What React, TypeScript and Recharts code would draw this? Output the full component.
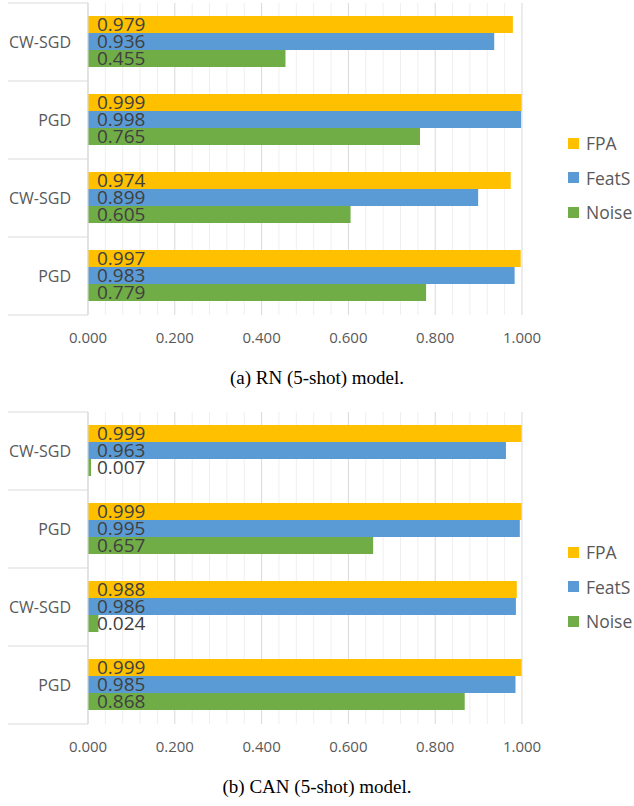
import React from "react";
import { BarChart, Bar, XAxis, YAxis, CartesianGrid, LabelList } from "recharts";

const categories = ["CW-SGD", "PGD", "CW-SGD", "PGD"];
const seriesNames = ["FPA", "FeatS", "Noise"];
const seriesColors = ["#FFC000", "#5B9BD5", "#70AD47"];

const rnFPA = [0.979, 0.999, 0.974, 0.997];
const rnFeatS = [0.936, 0.998, 0.899, 0.983];
const rnNoise = [0.455, 0.765, 0.605, 0.779];

const canFPA = [0.999, 0.999, 0.988, 0.999];
const canFeatS = [0.963, 0.995, 0.986, 0.985];
const canNoise = [0.007, 0.657, 0.024, 0.868];

// every 0.04 is a minor gridline, labels only on the 0.2 steps
const xTicks = [
  0, 0.04, 0.08, 0.12, 0.16, 0.2, 0.24, 0.28, 0.32, 0.36, 0.4, 0.44, 0.48,
  0.52, 0.56, 0.6, 0.64, 0.68, 0.72, 0.76, 0.8, 0.84, 0.88, 0.92, 0.96, 1,
];
const xLabelTicks = [0, 0.2, 0.4, 0.6, 0.8, 1];

const FONT = "'Open Sans', sans-serif";
const W = 634;
const H = 355;
const MARGIN = { top: 3, right: 112, left: 8, bottom: 0 };
const Y_W = 80;
const X_H = 40;
const PLOT_LEFT = MARGIN.left + Y_W;
const BAND = (H - MARGIN.top - X_H) / categories.length;

const isMajor = (v: number) => xLabelTicks.some((t) => Math.abs(t - v) < 1e-6);

function CatTick(p: any) {
  const last = p.index === categories.length - 1;
  return (
    <g>
      <line x1={MARGIN.left} x2={PLOT_LEFT} y1={p.y - BAND / 2} y2={p.y - BAND / 2} stroke="#d9d9d9" />
      {last && (
        <line x1={MARGIN.left} x2={PLOT_LEFT} y1={p.y + BAND / 2} y2={p.y + BAND / 2} stroke="#d9d9d9" />
      )}
      <text x={p.x - 9} y={p.y} textAnchor="end" dominantBaseline="central" fill="#595959" fontSize={16} fontFamily={FONT}>
        {p.payload.value}
      </text>
    </g>
  );
}

function ValTick(p: any) {
  if (!isMajor(p.payload.value)) return <g />;
  return (
    <text x={p.x} y={p.y + 14} textAnchor="middle" dominantBaseline="central" fill="#595959" fontSize={15} fontFamily={FONT}>
      {p.payload.value.toFixed(3)}
    </text>
  );
}

function GridLine(p: any) {
  const major = p.index % 5 === 0;
  return <line x1={p.x1} x2={p.x2} y1={p.y1} y2={p.y2} stroke={major ? "#d9d9d9" : "#efefef"} strokeWidth={1} />;
}

function Panel({ top, fpa, featS, noise, caption }: any) {
  const data = categories.map((c, i) => ({ name: c, FPA: fpa[i], FeatS: featS[i], Noise: noise[i] }));
  return (
    <div style={{ position: "absolute", left: 0, top, width: W, height: 400 }}>
      <BarChart width={W} height={H} data={data} layout="vertical" margin={MARGIN} barCategoryGap={13} barGap={0}>
        <CartesianGrid horizontal={false} vertical={GridLine} />
        <XAxis type="number" domain={[0, 1]} ticks={xTicks} interval={0} tickLine={false} axisLine={false} tick={ValTick} height={X_H} />
        <YAxis type="category" dataKey="name" width={Y_W} interval={0} tickLine={false} axisLine={{ stroke: "#d9d9d9" }} tick={CatTick} />
        {seriesNames.map((s, k) => (
          <Bar key={s} dataKey={s} fill={seriesColors[k]} isAnimationActive={false}>
            <LabelList
              dataKey={s}
              position="insideLeft"
              offset={9}
              formatter={(v: any) => Number(v).toFixed(3)}
              fill="#404040"
              fontSize={19}
              fontFamily={FONT}
            />
          </Bar>
        ))}
      </BarChart>
      <div style={{ position: "absolute", left: 568, top: 126, fontFamily: FONT, fontSize: 17.5, color: "#595959" }}>
        {seriesNames.map((s, k) => (
          <div key={s} style={{ display: "flex", alignItems: "center", height: 34.5 }}>
            <span style={{ width: 11, height: 11, background: seriesColors[k], marginRight: 7, display: "inline-block" }} />
            {s}
          </div>
        ))}
      </div>
      <div
        style={{
          position: "absolute",
          left: 0,
          width: W,
          top: 365,
          textAlign: "center",
          fontFamily: "'Liberation Serif', 'Times New Roman', serif",
          fontSize: 19,
          color: "#000",
          lineHeight: "26px",
        }}
      >
        {caption}
      </div>
    </div>
  );
}

export default function App() {
  return (
    <div style={{ position: "absolute", left: 0, top: 0, width: W, height: 806, background: "#fff" }}>
      <Panel top={0} fpa={rnFPA} featS={rnFeatS} noise={rnNoise} caption="(a) RN (5-shot) model." />
      <Panel top={409} fpa={canFPA} featS={canFeatS} noise={canNoise} caption="(b) CAN (5-shot) model." />
    </div>
  );
}
